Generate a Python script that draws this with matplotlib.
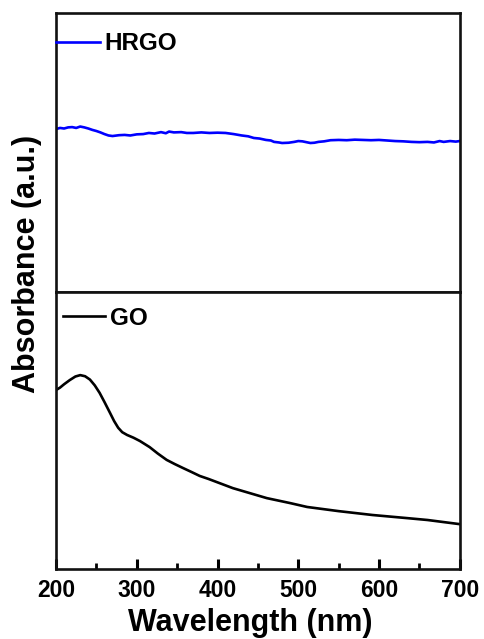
import matplotlib
matplotlib.use('Agg')
import matplotlib.pyplot as plt
from matplotlib.ticker import MultipleLocator

plt.rcParams['font.family'] = ['Liberation Sans', 'DejaVu Sans']
plt.rcParams['font.weight'] = 'bold'
# inward ticks, set before the axes are made
plt.rcParams['xtick.direction'] = 'in'
plt.rcParams['xtick.major.size'] = 7
plt.rcParams['xtick.major.width'] = 2.2
plt.rcParams['xtick.minor.size'] = 4
plt.rcParams['xtick.minor.width'] = 2.0
plt.rcParams['xtick.color'] = 'black'
plt.rcParams['xtick.labelsize'] = 16.5
plt.rcParams['xtick.major.pad'] = 7

# HRGO spectrum (arbitrary units)
hrgo_wl = [200, 205, 210, 215, 220, 225, 230, 235, 240, 245, 250, 255, 260, 265,
           270, 278, 285, 292, 300, 308, 315, 322, 330, 336, 340, 346, 355, 362,
           370, 380, 390, 400, 410, 420, 430, 438, 445, 452, 460, 466, 470, 476,
           480, 488, 495, 500, 505, 510, 515, 520, 525, 532, 540, 550, 560, 570,
           580, 590, 600, 610, 620, 630, 640, 650, 660, 668, 675, 680, 688, 695, 700]
hrgo_abs = [0.584, 0.588, 0.586, 0.590, 0.591, 0.588, 0.593, 0.590, 0.586, 0.581,
            0.577, 0.572, 0.566, 0.561, 0.559, 0.562, 0.563, 0.561, 0.565, 0.566,
            0.570, 0.568, 0.573, 0.569, 0.575, 0.572, 0.573, 0.570, 0.570, 0.572,
            0.570, 0.571, 0.570, 0.566, 0.561, 0.558, 0.552, 0.550, 0.545, 0.543,
            0.538, 0.536, 0.534, 0.535, 0.538, 0.541, 0.540, 0.537, 0.534, 0.535,
            0.538, 0.540, 0.544, 0.545, 0.544, 0.546, 0.545, 0.544, 0.545, 0.543,
            0.541, 0.540, 0.538, 0.537, 0.538, 0.536, 0.541, 0.538, 0.541, 0.539, 0.541]

# GO spectrum
go_wl = [200, 205, 210, 217, 224, 230, 236, 242, 248, 254, 260, 267, 272, 277,
         282, 288, 296, 304, 316, 326, 337, 347, 357, 368, 378, 389, 399, 419,
         440, 461, 490, 511, 550, 592, 634, 660, 700]
go_abs = [0.646, 0.655, 0.667, 0.682, 0.695, 0.700, 0.696, 0.684, 0.663, 0.636,
          0.603, 0.563, 0.534, 0.510, 0.494, 0.484, 0.474, 0.462, 0.440, 0.417,
          0.394, 0.379, 0.365, 0.350, 0.336, 0.325, 0.314, 0.292, 0.274, 0.256,
          0.238, 0.224, 0.209, 0.195, 0.184, 0.177, 0.162]

xticks = [200, 300, 400, 500, 600, 700]

fig = plt.figure(figsize=(4.84, 6.39), dpi=100)
ax_top = fig.add_axes([0.1157, 0.543, 0.8343, 0.4367])
ax_bot = fig.add_axes([0.1157, 0.1095, 0.8343, 0.4335])

ax_top.plot(hrgo_wl, hrgo_abs, color='#0000ff', lw=1.9, label='HRGO')
ax_bot.plot(go_wl, go_abs, color='black', lw=1.9, label='GO')

for ax in (ax_top, ax_bot):
    ax.set_xlim(200, 700)
    ax.set_ylim(0, 1)
    ax.tick_params(axis='y', which='both', left=False, labelleft=False)
    for s in ax.spines.values():
        s.set_linewidth(1.9)
        s.set_color('#111111')

ax_top.tick_params(axis='x', which='both', bottom=False, labelbottom=False)

ax_bot.set_xticks(xticks)
ax_bot.set_xticklabels([str(t) for t in xticks], fontweight='bold')
ax_bot.xaxis.set_minor_locator(MultipleLocator(50))

fig.text(250 / 484, 1 - 623 / 639, 'Wavelength (nm)', fontsize=22,
         fontweight='bold', ha='center', va='center')
fig.text(27 / 484, 1 - 264 / 639, 'Absorbance (a.u.)', rotation=90, fontsize=22,
         fontweight='bold', ha='center', va='center')

ax_top.legend(loc='center left', bbox_to_anchor=(0.0, 0.889), frameon=False,
              borderpad=0, borderaxespad=0, handlelength=1.8, handletextpad=0.2,
              prop={'size': 17.5, 'weight': 'bold'})
ax_bot.legend(loc='center left', bbox_to_anchor=(0.017, 0.906), frameon=False,
              borderpad=0, borderaxespad=0, handlelength=1.75, handletextpad=0.2,
              prop={'size': 17.5, 'weight': 'bold'})

fig.savefig('out.png', dpi=100)
